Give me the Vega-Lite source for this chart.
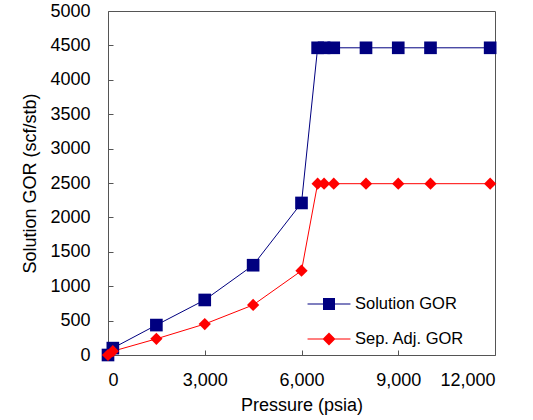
{
  "$schema": "https://vega.github.io/schema/vega-lite/v6.json",
  "width": 387,
  "height": 344,
  "autosize": "none",
  "padding": {"left": 108, "top": 11, "right": 38, "bottom": 65},
  "config": {
    "font": "Liberation Sans",
    "view": {"stroke": "#555555", "strokeWidth": 1},
    "axis": {
      "grid": false,
      "domain": false,
      "tickColor": "#555555",
      "tickSize": -5,
      "labelFontSize": 18,
      "labelColor": "#000000",
      "titleFontSize": 18,
      "titleFontWeight": "normal",
      "titleColor": "#000000"
    }
  },
  "data": {
    "values": [
      {"series": "Solution GOR", "pressure": 0, "gor": 0},
      {"series": "Solution GOR", "pressure": 150, "gor": 100},
      {"series": "Solution GOR", "pressure": 1500, "gor": 435},
      {"series": "Solution GOR", "pressure": 3000, "gor": 800},
      {"series": "Solution GOR", "pressure": 4500, "gor": 1305},
      {"series": "Solution GOR", "pressure": 6000, "gor": 2210},
      {"series": "Solution GOR", "pressure": 6500, "gor": 4465},
      {"series": "Solution GOR", "pressure": 6700, "gor": 4465},
      {"series": "Solution GOR", "pressure": 7000, "gor": 4465},
      {"series": "Solution GOR", "pressure": 8000, "gor": 4465},
      {"series": "Solution GOR", "pressure": 9000, "gor": 4465},
      {"series": "Solution GOR", "pressure": 10000, "gor": 4465},
      {"series": "Solution GOR", "pressure": 11850, "gor": 4465},
      {"series": "Sep. Adj. GOR", "pressure": 0, "gor": 0},
      {"series": "Sep. Adj. GOR", "pressure": 150, "gor": 55},
      {"series": "Sep. Adj. GOR", "pressure": 1500, "gor": 235},
      {"series": "Sep. Adj. GOR", "pressure": 3000, "gor": 450},
      {"series": "Sep. Adj. GOR", "pressure": 4500, "gor": 727},
      {"series": "Sep. Adj. GOR", "pressure": 6000, "gor": 1225},
      {"series": "Sep. Adj. GOR", "pressure": 6500, "gor": 2490},
      {"series": "Sep. Adj. GOR", "pressure": 6700, "gor": 2490},
      {"series": "Sep. Adj. GOR", "pressure": 7000, "gor": 2490},
      {"series": "Sep. Adj. GOR", "pressure": 8000, "gor": 2490},
      {"series": "Sep. Adj. GOR", "pressure": 9000, "gor": 2490},
      {"series": "Sep. Adj. GOR", "pressure": 10000, "gor": 2490},
      {"series": "Sep. Adj. GOR", "pressure": 11850, "gor": 2490}
    ]
  },
  "encoding": {
    "x": {
      "field": "pressure",
      "type": "quantitative",
      "scale": {"domain": [0, 12000], "nice": false},
      "axis": {
        "values": [0, 3000, 6000, 9000, 12000],
        "format": ",d",
        "title": "Pressure (psia)",
        "labelPadding": 21,
        "titlePadding": 7
      }
    },
    "y": {
      "field": "gor",
      "type": "quantitative",
      "scale": {"domain": [0, 5000], "nice": false},
      "axis": {
        "values": [0, 500, 1000, 1500, 2000, 2500, 3000, 3500, 4000, 4500, 5000],
        "format": "d",
        "title": "Solution GOR (scf/stb)",
        "labelPadding": 23,
        "titlePadding": 10
      }
    },
    "color": {
      "field": "series",
      "type": "nominal",
      "scale": {
        "domain": ["Solution GOR", "Sep. Adj. GOR"],
        "range": ["#000080", "#ff0000"]
      },
      "legend": {
        "orient": "none",
        "legendX": 206,
        "legendY": 278,
        "title": null,
        "padding": 0,
        "symbolSize": 900,
        "labelFontSize": 16.5,
        "labelColor": "#000000",
        "labelOffset": 11,
        "rowPadding": 11,
        "encode": {
          "symbols": {
            "update": {
              "shape": {"signal": "datum.value === 'Solution GOR' ? 'M-1.43,-0.035L1.43,-0.035L1.43,0.035L-1.43,0.035Z M-0.4,-0.4L0.4,-0.4L0.4,0.4L-0.4,0.4Z' : 'M-1.43,-0.035L1.43,-0.035L1.43,0.035L-1.43,0.035Z M0,-0.43L0.43,0L0,0.43L-0.43,0Z'"},
              "fill": {"signal": "scale('color', datum.value)"},
              "size": {"value": 900},
              "strokeWidth": {"value": 0},
              "opacity": {"value": 1}
            }
          }
        }
      }
    }
  },
  "layer": [
    {
      "mark": {"type": "line", "strokeWidth": 1}
    },
    {
      "transform": [{"filter": "datum.series === 'Solution GOR'"}],
      "mark": {"type": "point", "shape": "square", "filled": true, "opacity": 1, "strokeWidth": 0, "size": 160}
    },
    {
      "transform": [{"filter": "datum.series === 'Sep. Adj. GOR'"}],
      "mark": {"type": "point", "shape": "diamond", "filled": true, "opacity": 1, "strokeWidth": 0, "size": 150}
    }
  ]
}
